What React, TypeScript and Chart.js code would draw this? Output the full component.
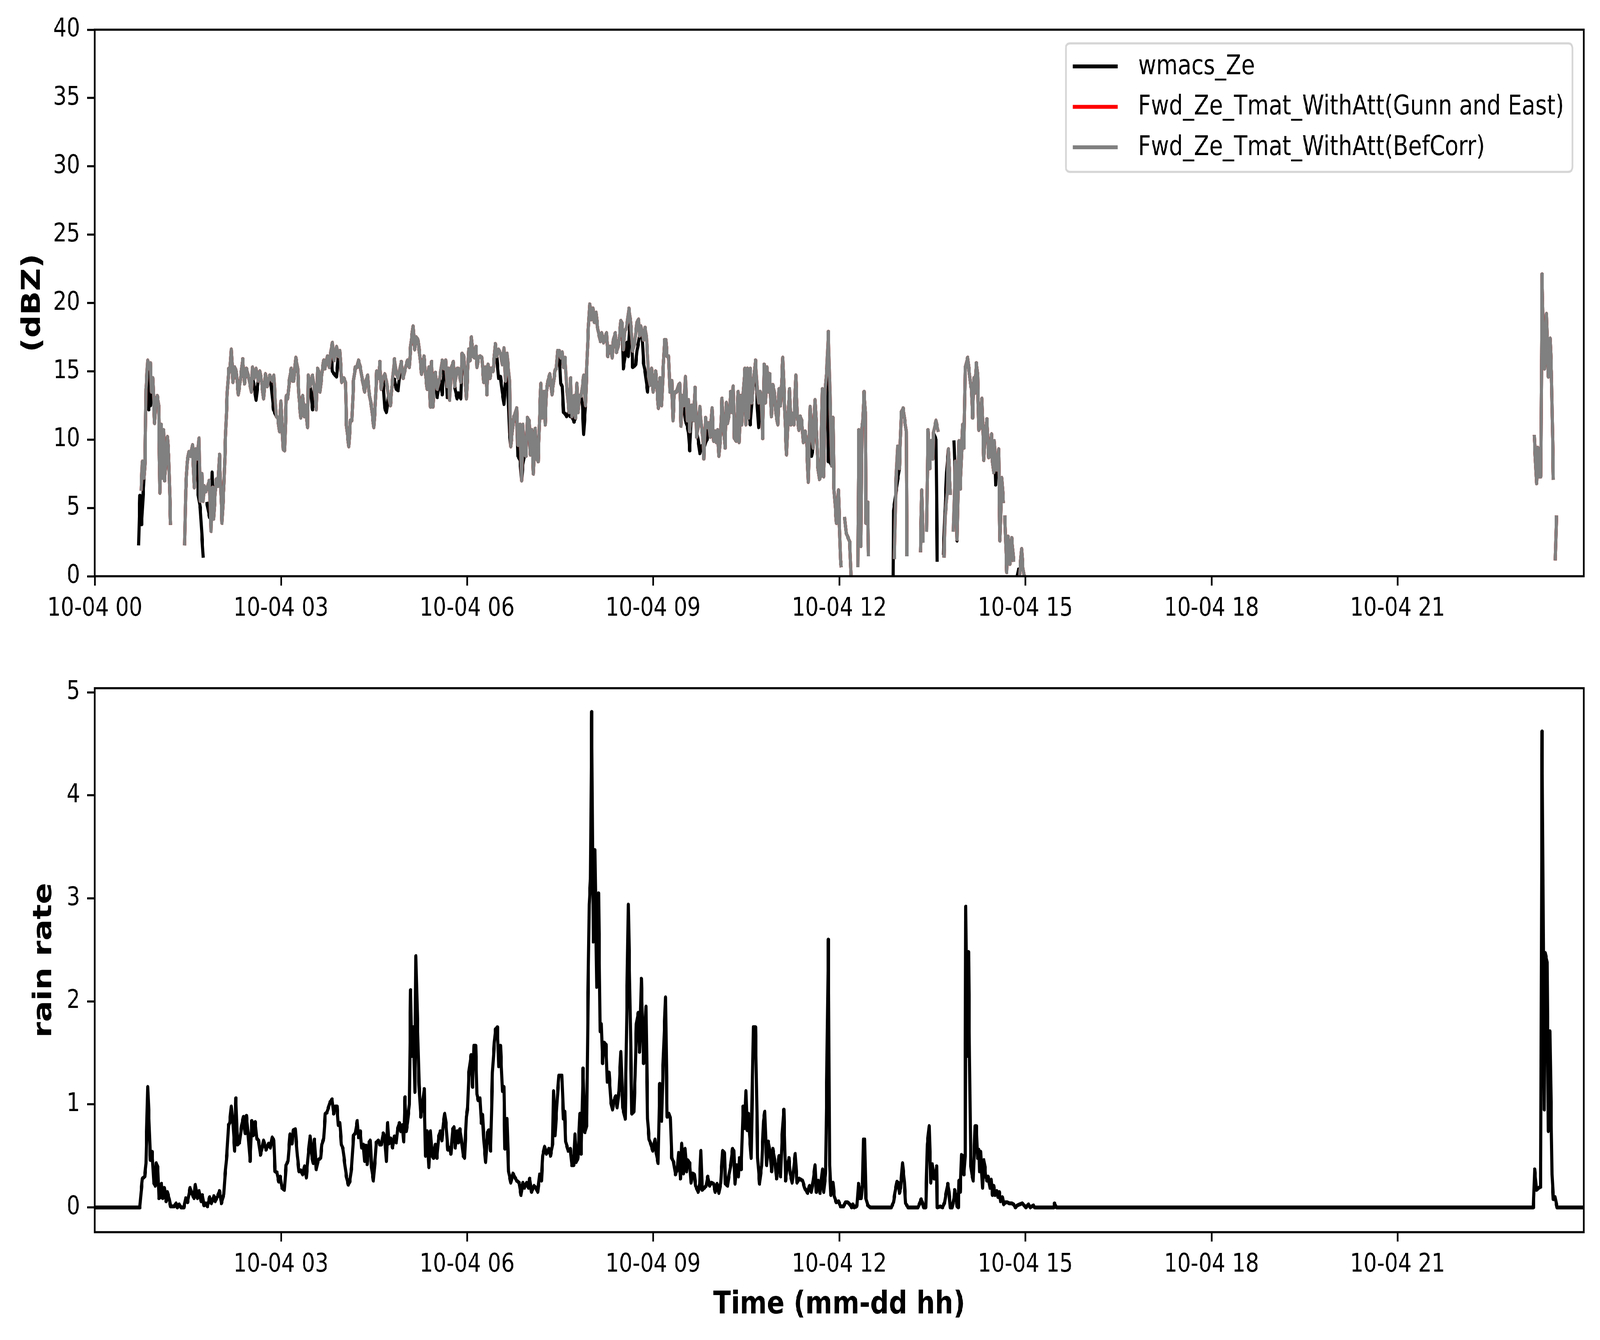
import React, { useEffect, useRef } from 'react';
import { Chart, registerables } from 'chart.js';

Chart.register(...registerables);

const FONT = "'DejaVu Sans', sans-serif";
const DATE_PREFIX = '10-04';
const PAGE_W = 4995;
const PAGE_H = 3430;

const xTicksTop = [0, 3, 6, 9, 12, 15, 18, 21];
const xTicksBottom = [3, 6, 9, 12, 15, 18, 21];
const zeTicks = [0, 5, 10, 15, 20, 25, 30, 35, 40];
const rainTicks = [0, 1, 2, 3, 4, 5];

type Pt = [number, number | null];

// Fwd_Ze_Tmat_WithAtt(BefCorr)  [hour, dBZ]
const fwdZeBefCorr: Pt[] = [
  [0.746,6.4],[0.766,8.4],[0.794,7.2],[0.81,8.4],[0.825,13.7],[0.853,15.8],[0.88,15.2],[0.896,15.6],[0.912,13.5],[0.936,14.5],[0.963,11.2],[0.983,12.8],[1.007,13.2],[1.03,12.5],[1.05,6.1],[1.07,11.1],[1.09,7.2],[1.11,10.7],[1.125,7.0],[1.15,8.6],[1.17,10.2],[1.19,8.9],[1.22,3.9],
  [1.33,null],
  [1.449,2.4],[1.465,6.3],[1.49,8.4],[1.516,9.1],[1.544,8.8],[1.575,9.6],[1.603,6.5],[1.626,9.3],[1.654,8.6],[1.68,10.1],[1.70,5.5],[1.725,7.5],[1.745,5.5],[1.765,6.6],[1.79,6.2],[1.82,6.6],[1.844,7.0],[1.875,3.3],[1.90,6.5],[1.915,4.2],[1.94,6.1],[1.96,7.1],[1.985,6.6],[2.01,8.9],[2.05,3.9],[2.08,6.5],[2.11,10.6],[2.136,13.5],[2.16,15.2],[2.18,15.0],[2.20,16.6],[2.227,14.2],[2.254,15.3],[2.28,15.0],[2.313,13.3],[2.345,14.3],[2.385,15.9],[2.412,14.1],[2.444,15.2],[2.483,14.5],[2.523,13.5],[2.542,15.3],[2.57,14.5],[2.60,15.2],[2.633,14.3],[2.66,15.0],[2.69,14.2],[2.72,13.0],[2.75,14.8],[2.78,13.9],[2.82,14.7],[2.86,14.3],[2.886,14.7],[2.925,11.7],[2.95,11.6],[2.977,10.6],[3.0,12.8],[3.036,9.3],[3.06,9.2],[3.087,13.2],[3.11,13.0],[3.135,14.3],[3.166,15.2],[3.19,14.3],[3.206,14.3],[3.24,16.0],[3.27,15.2],[3.29,13.2],[3.32,11.6],[3.35,13.2],[3.375,11.7],[3.40,12.5],[3.43,10.9],[3.44,14.7],[3.47,13.9],[3.51,14.7],[3.54,13.7],[3.57,12.2],[3.59,15.2],[3.61,15.0],[3.63,13.5],[3.66,14.8],[3.69,15.8],[3.71,15.2],[3.75,16.1],[3.78,15.3],[3.806,16.5],[3.83,17.1],[3.857,15.8],[3.897,16.8],[3.924,16.1],[3.95,16.5],[3.98,14.2],[4.015,14.5],[4.04,14.2],[4.055,11.1],[4.094,9.5],[4.12,11.4],[4.145,11.4],[4.17,14.3],[4.20,15.3],[4.225,15.3],[4.25,15.8],[4.28,15.3],[4.307,14.5],[4.35,13.5],[4.37,14.3],[4.40,14.7],[4.418,13.5],[4.457,12.5],[4.497,10.9],[4.52,12.5],[4.544,15.0],[4.575,14.5],[4.595,15.7],[4.615,13.7],[4.645,14.5],[4.674,14.8],[4.70,14.3],[4.733,13.2],[4.765,12.5],[4.79,13.9],[4.83,15.9],[4.86,14.8],[4.89,14.5],[4.92,15.2],[4.94,15.7],[4.97,14.5],[5.01,15.3],[5.04,15.8],[5.07,15.3],[5.09,16.8],[5.13,18.3],[5.156,16.6],[5.18,17.5],[5.21,17.3],[5.24,16.1],[5.267,14.8],[5.306,16.1],[5.33,14.8],[5.357,13.7],[5.385,15.3],[5.41,12.4],[5.43,15.7],[5.45,12.4],[5.47,14.2],[5.49,14.9],[5.52,13.7],[5.56,14.5],[5.60,15.8],[5.63,15.2],[5.655,15.8],[5.68,13.9],[5.70,15.2],[5.72,12.9],[5.75,15.3],[5.78,15.7],[5.80,13.9],[5.84,15.2],[5.86,15.2],[5.90,14.2],[5.92,16.3],[5.95,16.1],[5.99,13.0],[6.026,16.6],[6.05,15.8],[6.07,17.5],[6.097,16.1],[6.12,16.0],[6.145,16.8],[6.16,15.3],[6.185,16.0],[6.21,16.1],[6.24,16.0],[6.27,14.2],[6.30,15.3],[6.32,13.3],[6.338,15.5],[6.37,14.5],[6.39,15.2],[6.42,15.0],[6.456,17.0],[6.48,16.1],[6.508,16.6],[6.54,16.3],[6.567,15.5],[6.595,16.7],[6.62,14.3],[6.645,16.3],[6.665,15.3],[6.685,14.3],[6.705,9.5],[6.73,10.6],[6.756,11.7],[6.776,11.9],[6.80,12.3],[6.82,9.6],[6.855,11.1],[6.88,7.0],[6.90,11.1],[6.926,8.9],[6.95,8.8],[6.973,11.6],[7.0,11.4],[7.02,8.9],[7.045,10.7],[7.07,7.5],[7.10,10.8],[7.124,8.6],[7.147,8.4],[7.17,11.6],[7.19,14.1],[7.21,11.6],[7.24,13.5],[7.26,11.1],[7.28,13.5],[7.305,14.3],[7.335,14.8],[7.37,13.3],[7.395,14.2],[7.42,15.1],[7.44,15.2],[7.46,16.5],[7.487,16.5],[7.51,16.0],[7.535,16.4],[7.555,15.3],[7.58,16.0],[7.605,13.9],[7.645,12.0],[7.67,14.5],[7.69,11.7],[7.725,13.2],[7.75,11.6],[7.77,14.1],[7.79,12.0],[7.81,13.2],[7.84,13.2],[7.86,13.9],[7.88,14.7],[7.91,12.5],[7.93,15.2],[7.95,17.6],[7.977,19.9],[8.0,18.8],[8.03,19.6],[8.05,18.6],[8.08,19.3],[8.107,18.1],[8.13,17.6],[8.15,17.2],[8.17,17.8],[8.20,17.1],[8.225,17.5],[8.25,17.8],[8.27,16.1],[8.29,16.8],[8.315,16.8],[8.34,16.0],[8.36,17.3],[8.39,17.8],[8.41,16.4],[8.435,16.8],[8.46,17.6],[8.48,18.7],[8.50,18.5],[8.52,16.6],[8.545,18.0],[8.565,18.1],[8.584,18.6],[8.61,19.6],[8.63,18.9],[8.65,17.8],[8.67,16.5],[8.70,17.0],[8.72,17.8],[8.74,18.6],[8.766,18.8],[8.78,17.6],[8.80,18.3],[8.82,17.9],[8.845,17.3],[8.87,18.2],[8.89,17.6],[8.91,16.1],[8.925,14.7],[8.95,14.0],[8.975,15.2],[9.0,13.5],[9.02,14.2],[9.04,15.0],[9.066,13.5],[9.085,12.3],[9.11,14.5],[9.137,12.5],[9.16,15.0],[9.185,17.3],[9.205,17.3],[9.225,16.1],[9.25,16.1],[9.27,13.5],[9.30,14.3],[9.32,11.4],[9.34,13.3],[9.36,13.5],[9.38,13.5],[9.41,14.0],[9.43,14.1],[9.45,11.0],[9.47,13.2],[9.497,12.5],[9.52,14.6],[9.55,11.4],[9.57,12.9],[9.59,10.6],[9.62,12.5],[9.65,11.4],[9.675,13.8],[9.70,10.2],[9.725,10.9],[9.753,12.4],[9.777,11.1],[9.80,10.2],[9.817,8.6],[9.845,11.6],[9.87,10.9],[9.895,11.2],[9.92,10.2],[9.95,12.3],[9.975,9.9],[10.0,10.6],[10.02,9.8],[10.04,10.7],[10.06,8.8],[10.085,10.2],[10.11,13.0],[10.13,11.2],[10.16,9.4],[10.18,12.7],[10.20,11.2],[10.23,12.0],[10.25,13.5],[10.275,12.0],[10.29,13.9],[10.31,10.1],[10.34,9.9],[10.37,13.5],[10.385,9.8],[10.41,13.2],[10.43,11.1],[10.455,13.5],[10.48,15.2],[10.495,11.1],[10.52,15.2],[10.54,11.6],[10.565,15.2],[10.59,12.7],[10.62,14.3],[10.65,15.8],[10.68,13.5],[10.70,12.7],[10.725,13.5],[10.745,12.7],[10.765,10.1],[10.79,15.5],[10.81,12.7],[10.835,15.3],[10.86,13.5],[10.88,14.8],[10.905,11.7],[10.93,14.0],[10.953,13.5],[10.98,11.9],[11.01,11.1],[11.03,13.7],[11.055,12.5],[11.09,16.0],[11.107,13.9],[11.13,11.1],[11.15,8.9],[11.175,11.9],[11.20,13.7],[11.22,11.1],[11.245,11.9],[11.27,11.1],[11.30,14.7],[11.325,11.7],[11.35,10.7],[11.37,11.7],[11.395,11.4],[11.42,9.8],[11.45,10.6],[11.475,9.8],[11.50,6.9],[11.53,12.4],[11.555,10.4],[11.58,9.4],[11.61,12.9],[11.635,10.6],[11.655,8.0],[11.68,7.1],[11.70,7.3],[11.727,13.7],[11.75,7.3],[11.775,13.7],[11.80,15.2],[11.825,17.9],[11.85,13.5],[11.877,8.1],[11.90,11.6],[11.914,6.5],[11.954,3.9],[11.987,6.3],[12.02,1.2],[12.03,0.8],
  [12.05,null],
  [12.09,4.2],[12.11,3.2],[12.17,2.5],[12.19,0],
  [12.25,null],
  [12.30,0.8],[12.315,10.7],[12.35,2.2],[12.365,10.9],[12.38,11.3],[12.40,13.5],[12.42,12.0],[12.43,3.9],[12.46,5.4],[12.47,1.6],
  [12.6,null],
  [12.89,1.4],[12.915,7.0],[12.94,9.5],[12.97,7.9],[13.0,12.0],[13.03,12.3],[13.08,10.6],[13.09,1.6],
  [13.2,null],
  [13.31,1.9],[13.33,6.3],[13.35,2.6],
  [13.38,null],
  [13.41,3.4],[13.43,10.7],[13.46,7.9],[13.48,9.9],[13.51,8.6],[13.52,10.5],[13.56,11.4],[13.59,10.7],
  [13.63,null],
  [13.69,1.5],[13.71,4.5],[13.74,6.1],[13.76,9.3],[13.79,6.1],
  [13.82,null],
  [13.84,3.4],[13.87,8.4],[13.9,2.7],[13.93,9.9],[13.95,6.4],[13.99,11.1],[14.0,9.6],[14.01,9.4],[14.03,15.2],[14.07,16.0],[14.09,15.2],[14.12,13.9],[14.13,13.9],[14.15,11.6],[14.17,14.5],[14.18,13.4],[14.21,15.6],[14.23,14.8],[14.25,10.7],[14.27,10.9],[14.30,13.0],[14.33,8.5],[14.355,10.6],[14.38,11.5],[14.41,8.7],[14.43,8.9],[14.455,10.4],[14.47,8.4],[14.49,7.6],[14.50,9.9],[14.53,7.8],[14.55,7.8],[14.57,9.3],[14.59,2.6],[14.62,7.2],[14.645,5.5],
  [14.655,null],
  [14.67,4.3],[14.70,0.3],[14.72,2.9],[14.75,0.9],[14.78,2.8],[14.81,1.2],
  [14.85,null],
  [14.91,0.2],[14.94,2.0],[14.96,0.6],[14.98,0],
  [15.0,null],
  [23.205,10.2],[23.24,6.8],[23.26,9.4],[23.285,7.3],[23.31,7.3],[23.33,22.1],[23.35,17.0],[23.37,15.2],[23.40,19.2],[23.43,14.6],[23.44,17.0],[23.46,17.4],[23.48,15.0],[23.51,7.2],
  [23.53,null],
  [23.543,1.3],[23.56,4.3],
];

// Fwd_Ze_Tmat_WithAtt(Gunn and East): coincides with BefCorr in the picture (hidden beneath it)
const fwdZeGunnEast: Pt[] = fwdZeBefCorr;

// wmacs_Ze  [hour, dBZ]
const wmacsZe: Pt[] = [
  [0.707,2.4],[0.726,5.9],[0.754,3.8],[0.794,7.2],[0.81,8.4],[0.825,13.7],[0.853,15.2],[0.87,12.2],[0.885,13.5],[0.896,12.5],[0.912,13.5],[0.936,14.5],[0.963,11.2],[0.983,12.8],[1.007,13.2],[1.03,12.5],[1.05,6.1],[1.07,11.1],[1.09,7.2],[1.11,10.7],[1.125,7.0],[1.15,8.6],[1.17,10.2],[1.19,8.9],[1.22,3.9],
  [1.33,null],
  [1.449,2.4],[1.465,6.3],[1.49,8.4],[1.516,9.1],[1.544,8.8],[1.575,9.6],[1.603,6.5],[1.626,9.3],[1.654,8.6],[1.666,6.0],[1.70,5.0],[1.745,1.5],
  [1.77,null],
  [1.81,5.3],[1.85,4.3],[1.875,5.0],[1.89,7.6],[1.915,4.2],[1.94,6.1],[1.96,7.1],[1.985,6.6],[2.01,8.9],[2.05,3.9],[2.08,6.5],[2.11,10.6],[2.136,13.5],[2.16,15.2],[2.18,15.0],[2.20,16.6],[2.227,14.2],[2.254,15.3],[2.28,15.0],[2.313,13.3],[2.345,14.3],[2.385,15.9],[2.412,14.1],[2.444,15.2],[2.483,14.5],[2.523,13.5],[2.542,14.5],[2.57,13.9],[2.60,12.9],[2.633,14.3],[2.66,15.0],[2.69,14.2],[2.72,13.0],[2.75,14.8],[2.78,13.9],[2.82,14.7],[2.84,14.2],[2.88,12.2],[2.925,11.7],[2.95,11.6],[2.977,10.6],[3.0,12.8],[3.036,9.3],[3.06,9.2],[3.087,13.2],[3.11,13.0],[3.135,14.3],[3.166,15.2],[3.19,14.3],[3.206,14.3],[3.24,16.0],[3.27,15.2],[3.29,13.2],[3.32,11.6],[3.35,13.2],[3.375,11.7],[3.40,12.5],[3.43,10.9],[3.44,14.7],[3.47,13.9],[3.51,12.2],[3.54,13.7],[3.57,12.2],[3.59,15.2],[3.61,15.0],[3.63,13.5],[3.66,14.8],[3.69,15.8],[3.71,15.2],[3.75,16.1],[3.78,15.3],[3.806,16.5],[3.83,15.0],[3.857,14.8],[3.897,14.6],[3.924,16.1],[3.95,16.5],[3.98,14.2],[4.015,14.5],[4.04,14.2],[4.055,11.1],[4.094,9.5],[4.12,11.4],[4.145,11.4],[4.17,14.3],[4.20,15.3],[4.225,15.3],[4.25,15.8],[4.28,15.3],[4.307,14.5],[4.35,13.5],[4.37,14.3],[4.40,14.7],[4.418,13.5],[4.457,12.5],[4.497,10.9],[4.52,12.5],[4.544,15.0],[4.575,14.5],[4.595,15.7],[4.615,13.7],[4.645,14.5],[4.674,12.3],[4.70,12.0],[4.733,13.2],[4.765,12.5],[4.79,13.9],[4.83,14.4],[4.86,13.7],[4.89,13.6],[4.92,15.2],[4.94,15.7],[4.97,14.5],[5.01,15.3],[5.04,15.8],[5.07,15.3],[5.09,16.8],[5.13,18.3],[5.156,16.6],[5.18,17.5],[5.21,17.3],[5.24,16.1],[5.267,14.8],[5.306,16.1],[5.33,14.8],[5.357,13.7],[5.385,15.3],[5.41,12.4],[5.43,15.7],[5.45,12.4],[5.47,14.2],[5.49,14.9],[5.52,13.1],[5.56,14.4],[5.60,13.3],[5.63,15.2],[5.655,15.8],[5.68,13.1],[5.70,15.2],[5.72,13.2],[5.75,15.3],[5.78,15.7],[5.80,13.9],[5.84,13.0],[5.86,13.4],[5.90,13.0],[5.92,16.3],[5.95,16.1],[5.99,13.0],[6.026,16.6],[6.05,15.8],[6.07,17.5],[6.097,16.1],[6.12,16.0],[6.145,16.8],[6.16,15.3],[6.185,16.0],[6.21,16.1],[6.24,16.0],[6.27,14.2],[6.30,15.3],[6.32,13.3],[6.338,15.5],[6.37,14.5],[6.39,15.2],[6.42,15.0],[6.456,17.0],[6.48,16.1],[6.508,14.5],[6.54,14.6],[6.567,13.5],[6.595,12.6],[6.62,14.3],[6.645,16.3],[6.665,13.0],[6.685,10.5],[6.705,9.5],[6.73,10.6],[6.756,11.7],[6.776,11.9],[6.80,12.3],[6.82,8.8],[6.855,8.5],[6.88,7.0],[6.90,8.2],[6.926,8.9],[6.95,8.8],[6.973,11.6],[7.0,11.4],[7.02,8.9],[7.045,10.7],[7.07,7.5],[7.10,10.8],[7.124,8.6],[7.147,8.4],[7.17,11.6],[7.19,14.1],[7.21,11.6],[7.24,13.5],[7.26,11.1],[7.28,13.5],[7.305,14.3],[7.335,14.8],[7.37,13.3],[7.395,14.2],[7.42,15.1],[7.44,15.2],[7.46,16.5],[7.487,16.5],[7.51,14.1],[7.535,13.9],[7.555,12.0],[7.58,11.9],[7.605,11.7],[7.645,12.0],[7.665,11.7],[7.69,11.7],[7.725,11.3],[7.75,11.6],[7.77,14.1],[7.79,12.0],[7.81,13.2],[7.84,13.2],[7.86,12.5],[7.88,10.4],[7.91,12.5],[7.93,15.2],[7.95,17.6],[7.977,19.9],[8.0,18.8],[8.03,19.6],[8.05,18.6],[8.08,19.3],[8.107,18.1],[8.13,17.6],[8.15,17.2],[8.17,17.8],[8.20,17.1],[8.225,17.5],[8.25,17.8],[8.27,16.1],[8.29,16.8],[8.315,16.8],[8.34,16.0],[8.36,17.3],[8.39,17.8],[8.41,16.4],[8.435,16.8],[8.46,17.6],[8.48,18.7],[8.50,18.5],[8.52,15.2],[8.545,16.0],[8.58,17.1],[8.60,16.1],[8.63,18.9],[8.65,17.8],[8.67,15.3],[8.70,15.4],[8.72,15.5],[8.74,16.5],[8.76,17.0],[8.78,17.6],[8.80,18.3],[8.82,17.9],[8.845,15.6],[8.87,15.0],[8.91,13.5],[8.925,14.7],[8.95,14.0],[8.975,15.2],[9.0,13.5],[9.02,14.2],[9.04,15.0],[9.066,13.5],[9.085,12.3],[9.11,14.5],[9.137,12.5],[9.16,15.0],[9.185,17.3],[9.205,17.3],[9.225,16.1],[9.25,16.1],[9.27,13.5],[9.30,14.3],[9.32,11.4],[9.34,13.3],[9.36,13.5],[9.38,13.5],[9.41,14.0],[9.43,14.1],[9.45,11.0],[9.47,13.2],[9.497,12.5],[9.52,11.4],[9.55,11.0],[9.57,10.5],[9.59,9.2],[9.62,12.5],[9.65,11.4],[9.675,13.8],[9.70,10.6],[9.725,10.0],[9.753,9.0],[9.777,9.5],[9.80,9.6],[9.817,9.3],[9.845,9.8],[9.87,10.0],[9.895,11.2],[9.92,10.2],[9.95,12.3],[9.975,9.9],[10.0,10.6],[10.02,9.8],[10.04,10.7],[10.06,8.8],[10.085,10.2],[10.11,13.0],[10.13,11.2],[10.16,9.4],[10.18,12.7],[10.20,11.2],[10.23,12.0],[10.25,13.5],[10.275,12.0],[10.29,13.9],[10.31,10.1],[10.34,9.9],[10.37,13.5],[10.385,9.8],[10.41,13.2],[10.43,11.1],[10.455,13.5],[10.48,15.2],[10.495,11.1],[10.52,15.2],[10.54,12.0],[10.565,11.1],[10.59,12.7],[10.62,14.3],[10.65,15.8],[10.68,12.4],[10.70,10.9],[10.725,13.5],[10.745,12.7],[10.765,10.1],[10.79,15.5],[10.81,12.7],[10.835,15.3],[10.86,13.5],[10.88,14.8],[10.905,11.7],[10.93,14.0],[10.953,13.5],[10.98,11.9],[11.01,11.1],[11.03,13.7],[11.055,12.5],[11.09,16.0],[11.107,13.9],[11.13,11.1],[11.15,8.9],[11.175,11.9],[11.20,13.7],[11.22,11.1],[11.245,11.9],[11.27,11.1],[11.30,14.7],[11.325,11.7],[11.35,10.7],[11.37,11.7],[11.395,11.4],[11.42,9.8],[11.45,10.6],[11.475,9.8],[11.50,6.9],[11.53,12.4],[11.555,8.8],[11.58,9.4],[11.61,12.9],[11.635,10.6],[11.655,8.0],[11.68,7.1],[11.70,7.3],[11.727,13.7],[11.75,7.3],[11.775,13.7],[11.80,15.2],[11.825,8.4],[11.85,8.4],[11.877,8.1],[11.90,11.6],[11.914,6.5],[11.954,3.9],[11.987,6.3],[12.02,1.2],[12.03,0.8],
  [12.05,null],
  [12.09,4.2],[12.11,3.2],[12.17,2.5],[12.19,0],
  [12.25,null],
  [12.30,0.8],[12.315,10.7],[12.35,2.2],[12.365,10.9],[12.38,11.3],[12.40,13.5],[12.42,12.0],[12.43,3.9],[12.46,5.4],[12.47,1.6],
  [12.6,null],
  [12.87,0],[12.875,4.8],[12.94,7.0],[12.97,7.9],[13.0,12.0],[13.03,12.3],[13.08,10.6],[13.09,1.6],
  [13.2,null],
  [13.31,1.9],[13.33,6.3],[13.35,2.6],
  [13.38,null],
  [13.41,3.4],[13.43,10.7],[13.46,7.9],[13.48,9.9],[13.51,8.6],[13.52,10.5],[13.56,10.0],[13.58,1.2],
  [13.63,null],
  [13.68,1.7],[13.73,7.6],[13.76,9.3],[13.79,6.1],
  [13.82,null],
  [13.85,9.8],[13.90,2.6],[13.93,9.9],[13.95,6.4],[13.99,11.1],[14.0,9.6],[14.01,9.4],[14.03,15.2],[14.07,16.0],[14.09,15.2],[14.12,13.9],[14.13,13.9],[14.15,11.6],[14.17,14.5],[14.18,13.4],[14.21,15.6],[14.23,14.8],[14.25,10.7],[14.27,10.9],[14.30,13.0],[14.33,8.5],[14.355,10.6],[14.38,11.5],[14.41,8.7],[14.43,8.9],[14.455,10.4],[14.47,8.4],[14.49,7.6],[14.50,9.9],[14.52,6.7],[14.53,7.8],[14.55,7.8],[14.57,9.3],[14.59,2.6],[14.62,7.2],[14.645,5.5],
  [14.655,null],
  [14.67,4.3],[14.70,0.3],[14.72,2.9],[14.75,0.9],[14.78,2.8],[14.81,1.2],
  [14.85,null],
  [14.87,0],[14.89,0.5],[14.91,0.2],[14.94,2.0],[14.96,0.6],[14.98,0],
  [15.0,null],
  [23.205,10.2],[23.24,6.8],[23.26,9.4],[23.285,7.3],[23.31,7.3],[23.33,22.1],[23.35,17.0],[23.37,15.2],[23.40,19.2],[23.43,14.6],[23.44,17.0],[23.46,17.4],[23.48,15.0],[23.51,7.2],
  [23.53,null],
  [23.543,1.3],[23.56,4.3],
];

// rain rate  [hour, value]
const rainRate: Pt[] = [
  [0,0],[0.726,0],[0.746,0.15],[0.766,0.28],[0.805,0.30],[0.825,0.43],[0.853,1.17],[0.87,0.91],[0.896,0.46],[0.924,0.54],[0.95,0.24],[0.975,0.21],[0.99,0.43],[1.015,0.39],[1.034,0.09],[1.055,0.1],[1.074,0.23],[1.094,0.09],[1.12,0.19],[1.15,0.06],[1.17,0.15],[1.20,0.08],[1.22,0.01],[1.28,0.01],[1.31,0.04],[1.33,0.0],[1.36,0.03],[1.39,0],[1.437,0],[1.465,0.09],[1.496,0.05],[1.535,0.19],[1.567,0.13],[1.60,0.09],[1.62,0.22],[1.654,0.09],[1.68,0.16],[1.713,0.06],[1.733,0.12],[1.76,0.02],[1.79,0.04],[1.816,0.01],[1.85,0.10],[1.88,0.04],[1.92,0.11],[1.94,0.06],[1.98,0.11],[2.01,0.16],[2.04,0.04],[2.08,0.13],[2.096,0.29],[2.13,0.52],[2.155,0.80],[2.175,0.82],[2.20,0.98],[2.227,0.82],[2.254,0.55],[2.274,1.06],[2.30,0.61],[2.333,0.63],[2.365,0.79],[2.396,0.88],[2.424,0.72],[2.444,0.89],[2.475,0.69],[2.503,0.45],[2.53,0.84],[2.554,0.70],[2.586,0.83],[2.61,0.67],[2.64,0.65],[2.67,0.51],[2.69,0.56],[2.72,0.65],[2.76,0.56],[2.80,0.62],[2.83,0.58],[2.86,0.68],[2.886,0.65],[2.905,0.35],[2.937,0.34],[2.965,0.25],[2.99,0.30],[3.016,0.19],[3.056,0.17],[3.083,0.41],[3.115,0.45],[3.146,0.71],[3.18,0.62],[3.20,0.75],[3.233,0.76],[3.265,0.50],[3.29,0.35],[3.32,0.36],[3.35,0.32],[3.38,0.40],[3.41,0.29],[3.44,0.51],[3.47,0.69],[3.50,0.49],[3.52,0.43],[3.54,0.66],[3.57,0.37],[3.60,0.46],[3.64,0.48],[3.66,0.61],[3.69,0.67],[3.715,0.91],[3.74,0.92],[3.766,0.97],[3.79,1.02],[3.825,1.05],[3.85,0.91],[3.877,0.98],[3.905,0.98],[3.924,0.80],[3.95,0.82],[3.975,0.61],[4.0,0.57],[4.03,0.42],[4.055,0.30],[4.086,0.22],[4.11,0.25],[4.14,0.39],[4.17,0.70],[4.20,0.72],[4.23,0.84],[4.25,0.68],[4.28,0.74],[4.30,0.58],[4.33,0.61],[4.35,0.45],[4.37,0.6],[4.39,0.42],[4.42,0.63],[4.44,0.65],[4.46,0.39],[4.49,0.26],[4.52,0.48],[4.536,0.63],[4.57,0.65],[4.595,0.61],[4.62,0.61],[4.65,0.72],[4.674,0.69],[4.70,0.45],[4.72,0.82],[4.74,0.62],[4.77,0.67],[4.80,0.58],[4.83,0.69],[4.86,0.63],[4.88,0.76],[4.91,0.82],[4.93,0.74],[4.96,0.80],[4.98,0.64],[5.0,1.07],[5.02,0.74],[5.04,0.82],[5.07,1.0],[5.09,2.11],[5.11,1.47],[5.136,1.75],[5.16,1.12],[5.176,2.44],[5.20,1.82],[5.227,1.19],[5.255,0.88],[5.286,1.02],[5.31,1.15],[5.33,0.50],[5.357,0.74],[5.385,0.39],[5.41,0.74],[5.436,0.50],[5.46,0.48],[5.49,0.61],[5.515,0.48],[5.543,0.69],[5.57,0.74],[5.594,0.65],[5.62,0.82],[5.64,0.91],[5.66,0.82],[5.69,0.56],[5.715,0.58],[5.74,0.52],[5.77,0.76],[5.79,0.78],[5.81,0.58],[5.84,0.74],[5.86,0.63],[5.886,0.76],[5.92,0.61],[5.94,0.50],[5.96,0.48],[5.99,0.88],[6.01,0.97],[6.03,1.31],[6.065,1.48],[6.09,1.17],[6.11,1.57],[6.14,1.57],[6.16,1.10],[6.18,1.04],[6.21,1.06],[6.23,0.82],[6.25,0.90],[6.27,0.66],[6.30,0.44],[6.33,0.73],[6.35,0.75],[6.38,0.55],[6.41,1.31],[6.44,1.60],[6.46,1.73],[6.49,1.75],[6.51,1.37],[6.54,1.57],[6.57,1.13],[6.595,1.17],[6.61,0.57],[6.645,0.86],[6.67,0.35],[6.705,0.24],[6.74,0.33],[6.765,0.30],[6.80,0.26],[6.84,0.24],[6.87,0.12],[6.90,0.24],[6.925,0.19],[6.96,0.24],[6.99,0.19],[7.01,0.28],[7.04,0.15],[7.08,0.21],[7.11,0.19],[7.14,0.15],[7.17,0.32],[7.20,0.26],[7.22,0.50],[7.25,0.59],[7.28,0.52],[7.32,0.57],[7.345,0.50],[7.38,0.62],[7.395,1.13],[7.42,0.70],[7.455,1.06],[7.48,1.28],[7.51,1.28],[7.53,1.28],[7.555,0.86],[7.575,0.93],[7.59,0.64],[7.63,0.55],[7.665,0.57],[7.69,0.41],[7.72,0.41],[7.74,0.71],[7.76,0.44],[7.79,0.48],[7.82,0.91],[7.84,0.52],[7.87,1.35],[7.90,0.73],[7.93,0.80],[7.95,2.0],[7.97,2.94],[7.99,3.19],[8.01,4.81],[8.035,2.58],[8.06,3.47],[8.09,2.14],[8.12,3.05],[8.145,1.71],[8.165,1.78],[8.185,1.40],[8.21,1.60],[8.24,1.58],[8.26,1.22],[8.29,1.31],[8.32,1.02],[8.345,0.95],[8.37,1.04],[8.395,1.08],[8.42,0.97],[8.45,1.13],[8.48,1.51],[8.51,0.97],[8.55,0.86],[8.57,1.64],[8.60,2.94],[8.63,1.89],[8.655,0.91],[8.69,0.93],[8.71,1.28],[8.73,1.78],[8.76,1.89],[8.78,1.51],[8.81,2.22],[8.845,1.40],[8.885,1.95],[8.91,0.86],[8.935,0.66],[8.96,0.62],[8.995,0.55],[9.03,0.66],[9.05,0.53],[9.08,0.43],[9.105,1.20],[9.137,0.84],[9.16,1.38],[9.20,2.04],[9.225,0.88],[9.255,0.91],[9.28,0.86],[9.30,0.48],[9.33,0.44],[9.36,0.32],[9.39,0.37],[9.41,0.53],[9.44,0.28],[9.46,0.62],[9.49,0.33],[9.515,0.57],[9.54,0.35],[9.555,0.46],[9.59,0.43],[9.61,0.24],[9.635,0.33],[9.665,0.32],[9.685,0.21],[9.725,0.15],[9.75,0.23],[9.77,0.55],[9.79,0.17],[9.825,0.19],[9.855,0.21],[9.88,0.30],[9.91,0.21],[9.94,0.24],[9.975,0.23],[10.0,0.15],[10.03,0.23],[10.06,0.14],[10.09,0.24],[10.12,0.55],[10.15,0.53],[10.165,0.23],[10.20,0.21],[10.22,0.30],[10.25,0.41],[10.28,0.57],[10.30,0.55],[10.32,0.23],[10.345,0.41],[10.375,0.30],[10.39,0.48],[10.42,0.37],[10.45,0.98],[10.475,0.77],[10.495,1.13],[10.515,0.75],[10.535,0.91],[10.555,0.70],[10.58,0.48],[10.615,1.75],[10.65,1.75],[10.685,0.48],[10.715,0.23],[10.75,0.41],[10.78,0.84],[10.80,0.93],[10.83,0.41],[10.855,0.64],[10.88,0.55],[10.91,0.35],[10.93,0.57],[10.96,0.46],[10.99,0.28],[11.03,0.50],[11.055,0.30],[11.08,0.70],[11.107,0.95],[11.135,0.26],[11.16,0.39],[11.19,0.48],[11.21,0.33],[11.24,0.24],[11.265,0.37],[11.29,0.52],[11.32,0.24],[11.355,0.28],[11.38,0.27],[11.41,0.26],[11.44,0.19],[11.49,0.14],[11.52,0.21],[11.55,0.15],[11.58,0.26],[11.61,0.41],[11.63,0.15],[11.66,0.26],[11.69,0.14],[11.73,0.37],[11.75,0.15],[11.78,0.33],[11.80,1.28],[11.825,2.60],[11.845,0.41],[11.865,0.12],[11.90,0.24],[11.92,0.11],[11.95,0.05],[11.99,0.06],[12.02,0.01],[12.07,0.01],[12.10,0.05],[12.135,0.05],[12.17,0.03],[12.20,0],[12.22,0.03],[12.24,0],[12.28,0.01],[12.29,0.04],[12.31,0.23],[12.33,0.09],[12.355,0.09],[12.375,0.22],[12.39,0.66],[12.41,0.66],[12.43,0.09],[12.46,0.02],[12.50,0],[12.84,0],[12.875,0.05],[12.90,0.15],[12.93,0.25],[12.95,0.24],[12.97,0.14],[12.99,0.19],[13.02,0.43],[13.05,0.25],[13.07,0.04],[13.11,0],[13.27,0],[13.29,0.03],[13.32,0.08],[13.34,0.05],[13.36,0],[13.395,0],[13.42,0.61],[13.45,0.79],[13.475,0.24],[13.50,0.42],[13.53,0.28],[13.55,0.28],[13.57,0.40],[13.58,0],[13.63,0.01],[13.665,0],[13.70,0.05],[13.72,0.13],[13.75,0.23],[13.77,0.15],[13.79,0],[13.82,0],[13.85,0.09],[13.86,0.17],[13.88,0.12],[13.90,0.01],[13.92,0],[13.93,0.26],[13.95,0.15],[13.97,0.51],[13.99,0.50],[14.01,0.32],[14.03,0.50],[14.04,2.92],[14.066,1.47],[14.085,2.48],[14.10,1.47],[14.12,0.41],[14.14,0.32],[14.16,0.26],[14.19,0.79],[14.21,0.79],[14.23,0.48],[14.25,0.56],[14.26,0.35],[14.28,0.54],[14.31,0.19],[14.33,0.46],[14.35,0.39],[14.36,0.31],[14.38,0.26],[14.40,0.30],[14.43,0.19],[14.45,0.27],[14.47,0.12],[14.49,0.21],[14.51,0.12],[14.54,0.16],[14.56,0.10],[14.58,0.15],[14.60,0.06],[14.63,0.10],[14.65,0.03],[14.68,0.05],[14.71,0.05],[14.74,0.04],[14.78,0.04],[14.81,0.03],[14.84,0],[14.87,0.02],[14.91,0.03],[14.95,0.04],[14.98,0.02],[15.01,0],[15.05,0.03],[15.08,0],[15.13,0.02],[15.15,0],[15.46,0],[15.47,0.04],[15.50,0],[23.19,0],[23.21,0.37],[23.24,0.17],[23.275,0.19],[23.307,0.2],[23.33,4.62],[23.366,0.95],[23.38,2.47],[23.41,2.38],[23.43,0.74],[23.457,1.71],[23.49,0.32],[23.51,0.08],[23.54,0.10],[23.57,0],[24,0],
];

const toXY = (arr: Pt[]) => arr.map(([x, y]) => ({ x, y }));
const hourLabel = (v: number) => `${DATE_PREFIX} ${String(v).padStart(2, '0')}`;

const TICK_FONT = { family: FONT, size: 66 };
const LEGEND_FONT_SIZE = 69;
const TITLE_FONT = { family: FONT, size: 81, weight: 'bold' as const };

const framePlugin = {
  id: 'axesFrame',
  afterDatasetsDraw(chart: any) {
    const { ctx, chartArea: a } = chart;
    ctx.save();
    ctx.strokeStyle = '#000';
    ctx.lineWidth = 5.4;
    ctx.strokeRect(a.left, a.top, a.right - a.left, a.bottom - a.top);
    ctx.restore();
  },
};

const boxLegendPlugin = {
  id: 'boxLegend',
  afterDraw(chart: any) {
    const { ctx, chartArea: a } = chart;
    const items = chart.data.datasets.filter((d: any) => d.inLegend);
    ctx.save();
    ctx.font = `${LEGEND_FONT_SIZE}px ${FONT}`;
    const textW = Math.max(...items.map((d: any) => ctx.measureText(d.label).width));
    const padL = 22, handle = 140, gap = 64, padR = 26;
    const w = padL + handle + gap + textW + padR;
    const right = a.right - 35;
    const left = right - w;
    const top = a.top + 35;
    const rowH = 103.5;
    const h = 59 + rowH * (items.length - 1) + 63;
    const r = 14;
    ctx.beginPath();
    ctx.moveTo(left + r, top);
    ctx.lineTo(left + w - r, top);
    ctx.quadraticCurveTo(left + w, top, left + w, top + r);
    ctx.lineTo(left + w, top + h - r);
    ctx.quadraticCurveTo(left + w, top + h, left + w - r, top + h);
    ctx.lineTo(left + r, top + h);
    ctx.quadraticCurveTo(left, top + h, left, top + h - r);
    ctx.lineTo(left, top + r);
    ctx.quadraticCurveTo(left, top, left + r, top);
    ctx.closePath();
    ctx.fillStyle = 'rgba(255,255,255,0.8)';
    ctx.fill();
    ctx.strokeStyle = '#d6d6d6';
    ctx.lineWidth = 5.4;
    ctx.stroke();
    items.forEach((d: any, i: number) => {
      const y = top + 59 + i * rowH;
      ctx.beginPath();
      ctx.moveTo(left + padL, y);
      ctx.lineTo(left + padL + handle, y);
      ctx.strokeStyle = d.borderColor;
      ctx.lineWidth = 10;
      ctx.lineCap = 'butt';
      ctx.stroke();
      ctx.fillStyle = '#000';
      ctx.textBaseline = 'middle';
      ctx.textAlign = 'left';
      ctx.fillText(d.label, left + padL + handle + gap, y + 2);
    });
    ctx.restore();
  },
};

const lineDefaults = {
  pointRadius: 0,
  borderWidth: 10,
  tension: 0,
  borderJoinStyle: 'round' as const,
  borderCapStyle: 'square' as const,
  spanGaps: false,
  clip: 0,
  fill: false,
};

const gridOpts = {
  drawOnChartArea: false,
  drawTicks: true,
  tickLength: 24,
  tickWidth: 5.4,
  tickColor: '#000',
  color: '#000',
};

// Fit the 4995x3430 drawing to whatever viewport the browser actually provides.
function viewportScale() {
  if (typeof window === 'undefined') return { sx: 1, sy: 1 };
  const sx = window.innerWidth / PAGE_W;
  const sy = window.innerHeight / PAGE_H;
  return { sx: sx > 0 ? sx : 1, sy: sy > 0 ? sy : 1 };
}

export default function App() {
  const topRef = useRef<HTMLCanvasElement>(null);
  const botRef = useRef<HTMLCanvasElement>(null);
  const { sx, sy } = viewportScale();

  useEffect(() => {
    document.body.style.margin = '0';
    document.body.style.overflow = 'hidden';
    document.documentElement.style.overflow = 'hidden';
    Chart.defaults.color = '#000';
    Chart.defaults.font.family = FONT;

    const top = new Chart(topRef.current as HTMLCanvasElement, {
      type: 'line',
      data: {
        datasets: [
          { ...lineDefaults, label: 'wmacs_Ze', data: toXY(wmacsZe), borderColor: '#000000', order: 2, inLegend: true } as any,
          { ...lineDefaults, label: 'Fwd_Ze_Tmat_WithAtt(Gunn and East)', data: toXY(fwdZeGunnEast), borderColor: '#ff0000', order: 1, inLegend: true } as any,
          { ...lineDefaults, label: 'Fwd_Ze_Tmat_WithAtt(BefCorr)', data: toXY(fwdZeBefCorr), borderColor: '#808080', order: 0, inLegend: true } as any,
        ],
      },
      options: {
        animation: false,
        responsive: false,
        devicePixelRatio: 1,
        events: [],
        layout: { padding: { top: 76, right: 51, left: 0, bottom: 0 } },
        plugins: { legend: { display: false }, tooltip: { enabled: false } },
        scales: {
          x: {
            type: 'linear',
            min: 0,
            max: 24,
            afterBuildTicks: (s: any) => { s.ticks = xTicksTop.map((v) => ({ value: v })); },
            afterFit: (s: any) => { s.height = 225; },
            ticks: { autoSkip: false, maxRotation: 0, minRotation: 0, padding: 20, font: TICK_FONT, color: '#000', callback: (v: any) => hourLabel(Number(v)) },
            grid: gridOpts,
            border: { display: false },
          },
          y: {
            type: 'linear',
            min: 0,
            max: 40,
            afterBuildTicks: (s: any) => { s.ticks = zeTicks.map((v) => ({ value: v })); },
            afterFit: (s: any) => { s.width = 296; },
            ticks: { padding: 22, font: TICK_FONT, color: '#000' },
            grid: gridOpts,
            border: { display: false },
            title: { display: true, text: '(dBZ)', font: TITLE_FONT, color: '#000', padding: { top: 54, bottom: 0 } },
          },
        },
      },
      plugins: [framePlugin, boxLegendPlugin],
    } as any);

    const bot = new Chart(botRef.current as HTMLCanvasElement, {
      type: 'line',
      data: {
        datasets: [
          { ...lineDefaults, label: 'rain rate', data: toXY(rainRate), borderColor: '#000000' } as any,
        ],
      },
      options: {
        animation: false,
        responsive: false,
        devicePixelRatio: 1,
        events: [],
        layout: { padding: { top: 58, right: 51, left: 0, bottom: 0 } },
        plugins: { legend: { display: false }, tooltip: { enabled: false } },
        scales: {
          x: {
            type: 'linear',
            min: 0,
            max: 24,
            afterBuildTicks: (s: any) => { s.ticks = xTicksBottom.map((v) => ({ value: v })); },
            afterFit: (s: any) => { s.height = 276; },
            ticks: { autoSkip: false, maxRotation: 0, minRotation: 0, padding: 20, font: TICK_FONT, color: '#000', callback: (v: any) => hourLabel(Number(v)) },
            grid: gridOpts,
            border: { display: false },
            title: { display: true, text: 'Time (mm-dd hh)', font: TITLE_FONT, color: '#000', padding: { top: 0, bottom: 40 } },
          },
          y: {
            type: 'linear',
            min: -0.24,
            max: 5.04,
            afterBuildTicks: (s: any) => { s.ticks = rainTicks.map((v) => ({ value: v })); },
            afterFit: (s: any) => { s.width = 296; },
            ticks: { padding: 22, font: TICK_FONT, color: '#000' },
            grid: gridOpts,
            border: { display: false },
            title: { display: true, text: 'rain rate', font: TITLE_FONT, color: '#000', padding: { top: 90, bottom: 0 } },
          },
        },
      },
      plugins: [framePlugin],
    } as any);

    return () => {
      top.destroy();
      bot.destroy();
    };
  }, []);

  return (
    <div
      style={{
        position: 'absolute',
        left: 0,
        top: 0,
        width: PAGE_W,
        height: PAGE_H,
        background: '#ffffff',
        transform: `scale(${sx}, ${sy})`,
        transformOrigin: '0 0',
      }}
    >
      <canvas ref={topRef} width={PAGE_W} height={1700} style={{ position: 'absolute', left: 0, top: 0, width: PAGE_W, height: 1700 }} />
      <canvas ref={botRef} width={PAGE_W} height={1730} style={{ position: 'absolute', left: 0, top: 1700, width: PAGE_W, height: 1730 }} />
    </div>
  );
}
